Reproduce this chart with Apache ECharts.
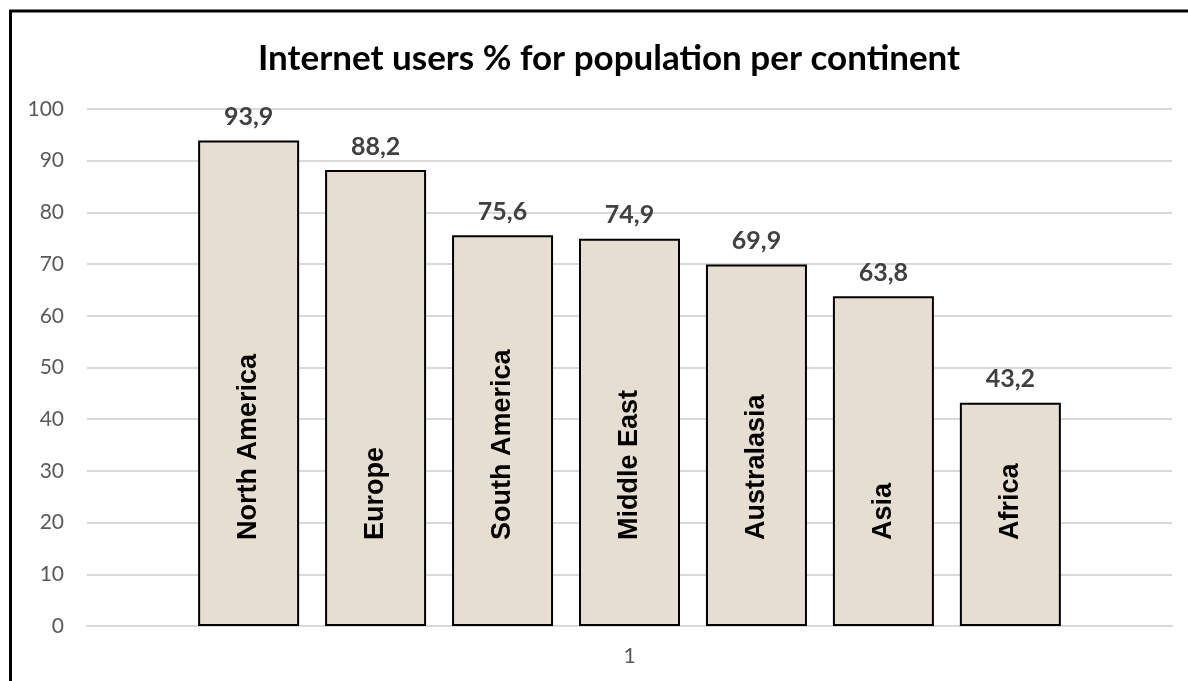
<!DOCTYPE html>
<html>
<head>
<meta charset="utf-8">
<script src="https://cdn.jsdelivr.net/npm/echarts@6/dist/echarts.min.js"></script>
<style>
  html, body { margin: 0; padding: 0; background: #fff; }
  #chart { width: 1188px; height: 681px; }
</style>
</head>
<body>
<div id="chart"></div>
<script>
const categories = ['1']
const continents = ['North America', 'Europe', 'South America', 'Middle East', 'Australasia', 'Asia', 'Africa']
const usersPct = [93.9, 88.2, 75.6, 74.9, 69.9, 63.8, 43.2]
const yTicks = [0, 10, 20, 30, 40, 50, 60, 70, 80, 90, 100]

const chart = echarts.init(document.getElementById('chart'))

const barFill = '#e6ded1'
const barW = 101
const gap = '25.7%'

// value bars (with value label on top)
const valueSeries = continents.map((name, i) => ({
  name,
  type: 'bar',
  xAxisIndex: 0,
  barWidth: barW,
  barGap: gap,
  data: [usersPct[i]],
  itemStyle: { color: barFill, borderColor: '#000', borderWidth: 2 },
  label: {
    show: true,
    position: 'top',
    distance: 11,
    formatter: (p) => String(p.value).replace('.', ','),
    fontFamily: 'Lato',
    fontWeight: 'bold',
    fontSize: 25,
    color: '#404040',
  },
  z: 2,
}))

// transparent overlay bars on a hidden axis, only for the rotated names
const nameSeries = continents.map((name, i) => ({
  name: name + ' label',
  type: 'bar',
  xAxisIndex: 1,
  barWidth: barW,
  barGap: gap,
  data: [usersPct[i]],
  silent: true,
  itemStyle: { color: 'rgba(0,0,0,0)' },
  label: {
    show: true,
    position: 'insideBottom',
    rotate: 90,
    align: 'left',
    verticalAlign: 'middle',
    distance: 86,
    formatter: name,
    fontFamily: 'Liberation Sans',
    fontWeight: 'bold',
    fontSize: 27,
    color: '#000',
  },
  z: 3,
}))

chart.setOption({
  animation: false,
  title: {
    text: 'Internet users % for population per continent',
    left: 253,
    top: 36,
    textStyle: { fontFamily: 'Lato', fontWeight: 'bold', fontSize: 35, color: '#000' },
  },
  graphic: [
    {
      type: 'rect',
      shape: { x: 10.5, y: 11, width: 1400, height: 900 },
      style: { fill: 'none', stroke: '#000', lineWidth: 3 },
      silent: true,
    },
  ],
  grid: { left: 87, right: 16, top: 109, bottom: 55 },
  xAxis: [
    {
      type: 'category',
      data: categories,
      axisTick: { show: false },
      axisLine: { lineStyle: { color: '#d9d9d9', width: 2 } },
      axisLabel: { fontFamily: 'Lato', fontSize: 21, color: '#595959', margin: 20 },
    },
    {
      type: 'category',
      data: categories,
      show: false,
    },
  ],
  yAxis: {
    type: 'value',
    min: yTicks[0],
    max: yTicks[yTicks.length - 1],
    interval: 10,
    axisLine: { show: false },
    axisTick: { show: false },
    axisLabel: { fontFamily: 'Lato', fontSize: 21, color: '#595959', margin: 23 },
    splitLine: { lineStyle: { color: '#d9d9d9', width: 2 } },
  },
  series: [...valueSeries, ...nameSeries],
})
</script>
</body>
</html>
